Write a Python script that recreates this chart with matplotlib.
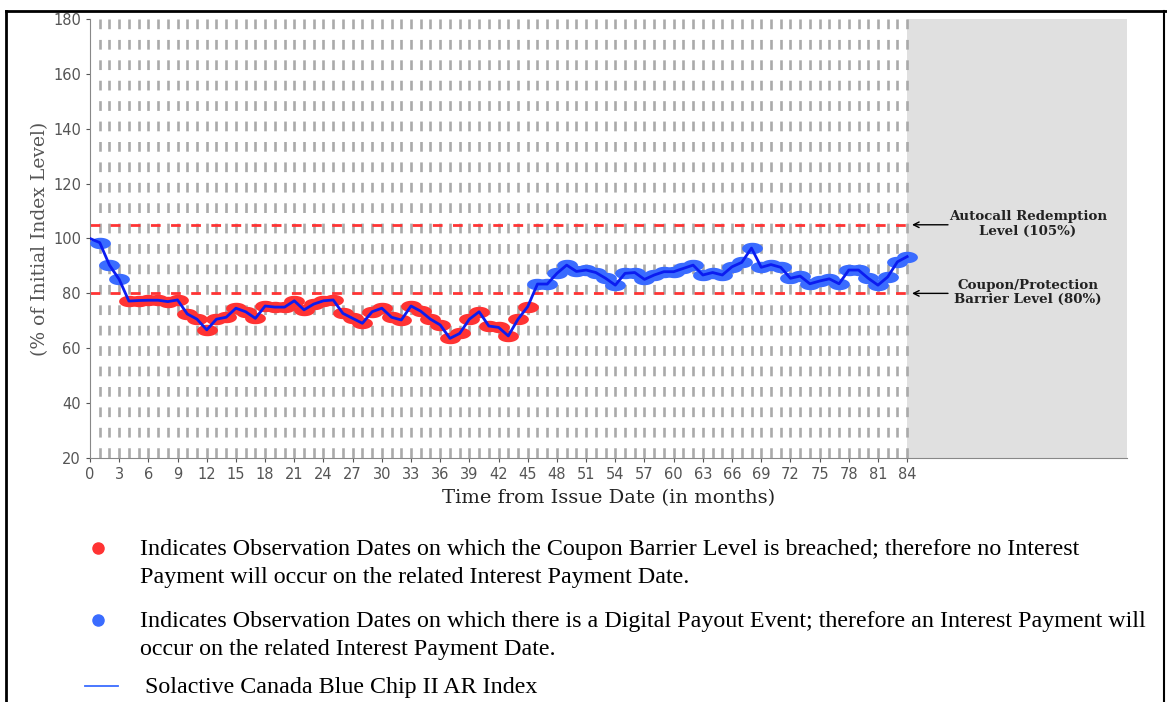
import numpy as np
import matplotlib
matplotlib.use("Agg")
import matplotlib.pyplot as plt
from matplotlib.path import Path
from matplotlib.lines import Line2D

# index level, % of initial, one value per month 0..84
months = list(range(0, 85))
levels = [
    100.0, 98.5, 90.3, 85.1, 77.2, 77.4, 77.5, 77.5, 77.0, 77.6,
    72.5, 70.6, 66.7, 70.6, 71.3, 74.6, 73.3, 70.9, 75.4, 75.0,
    75.0, 77.3, 74.0, 76.1, 77.3, 77.6, 72.7, 70.9, 69.1, 73.3,
    74.6, 71.3, 70.3, 75.4, 73.5, 70.6, 68.5, 63.6, 65.4, 70.6,
    73.3, 68.1, 67.6, 64.5, 70.6, 75.2, 83.4, 83.4, 87.3, 90.3,
    88.0, 88.5, 87.6, 85.5, 83.0, 87.3, 87.6, 85.1, 86.7, 87.9,
    87.9, 89.1, 90.3, 86.7, 87.6, 86.7, 89.7, 91.3, 96.5, 89.5,
    90.5, 89.5, 85.5, 86.3, 83.5, 84.5, 85.3, 83.5, 88.5, 88.5,
    85.5, 83.0, 86.0, 91.5, 93.4,
]
autocall_level = 105
barrier_level = 80
maturity = 84
xticks = list(range(0, 85, 3))
yticks = list(range(20, 181, 20))

W, H = 1167, 702
RED, BLUE, LINE = "#ff3333", "#3a6cff", "#0b1cf0"

plt.rcParams["lines.scale_dashes"] = False
fig = plt.figure(figsize=(W / 100, H / 100), dpi=100)
ax = fig.add_axes([90 / W, 1 - 458 / H, (1127 - 90) / W, (458 - 19) / H])
ax.set_xlim(0, 106.6)
ax.set_ylim(20, 180)

# grey area after maturity
ax.axvspan(maturity, 106.6, color="#e0e0e0", lw=0, zorder=0)

# monthly observation dates
ax.vlines(months[1:], 180, 20, colors="#aaaaaa", lw=1.9,
          linestyles=[(0, (7.0, 7.7))], zorder=1)

# barrier lines
ax.hlines([autocall_level, barrier_level], 0, maturity, colors=RED, lw=2.0,
          linestyles=[(0, (7.0, 7.5))], zorder=2)

# ellipse marker
t = np.linspace(0, 2 * np.pi, 40)
ell = Path(np.column_stack([np.cos(t), 0.55 * np.sin(t)]), closed=True)

lv = np.array(levels)
mo = np.array(months)
obs = mo >= 1
below = obs & (lv < barrier_level)
above = obs & (lv >= barrier_level)
ax.plot(mo[below], lv[below], ls="none", marker=ell, ms=15, mfc=RED, mec="none", zorder=3)
ax.plot(mo[above], lv[above], ls="none", marker=ell, ms=15, mfc=BLUE, mec="none", zorder=3)
ax.plot(mo, lv, color=LINE, lw=2.0, zorder=4)

# labels on the right
for lvl, txt in [(autocall_level, "Autocall Redemption\nLevel (105%)"),
                 (barrier_level, "Coupon/Protection\nBarrier Level (80%)")]:
    ax.annotate("", xy=(84.5, lvl), xytext=(88.2, lvl),
                arrowprops=dict(arrowstyle="->", color="black", lw=1.0,
                                shrinkA=0, shrinkB=0), zorder=5)
    ax.text(96.4, lvl + 0.3, txt, ha="center", va="center", family="DejaVu Serif",
            fontweight="bold", fontsize=9.6, color="#222222", linespacing=1.15)

ax.set_xticks(xticks)
ax.set_yticks(yticks)
ax.tick_params(colors="#555555", labelsize=10.5, length=3, width=0.8)
for lab in ax.get_xticklabels() + ax.get_yticklabels():
    lab.set_color("#555555")
for s in ["top", "right"]:
    ax.spines[s].set_visible(False)
for s in ["left", "bottom"]:
    ax.spines[s].set_color("#888888")

ax.set_xlabel("Time from Issue Date (in months)", family="DejaVu Serif",
              fontsize=14, color="#222222", labelpad=5)
ax.set_ylabel("(% of Initial Index Level)", family="DejaVu Serif",
              fontsize=13.5, color="#555555", labelpad=3)

# legend text below the chart
def px(x, y):
    return x / W, 1 - y / H

serif = "Liberation Serif"
fs = 17.25
fig.text(*px(140, 549), "Indicates Observation Dates on which the Coupon Barrier Level is breached; therefore no Interest",
         family=serif, fontsize=fs, va="center")
fig.text(*px(140, 578), "Payment will occur on the related Interest Payment Date.",
         family=serif, fontsize=fs, va="center")
fig.text(*px(140, 621), "Indicates Observation Dates on which there is a Digital Payout Event; therefore an Interest Payment will",
         family=serif, fontsize=fs, va="center")
fig.text(*px(140, 650), "occur on the related Interest Payment Date.",
         family=serif, fontsize=fs, va="center")
fig.text(*px(145, 687), "Solactive Canada Blue Chip II AR Index",
         family=serif, fontsize=fs, va="center")

fig.add_artist(Line2D([98 / W], [1 - 548 / H], marker="o", ms=8, color=RED, ls="none"))
fig.add_artist(Line2D([98 / W], [1 - 620 / H], marker="o", ms=8, color=BLUE, ls="none"))
fig.add_artist(Line2D([85 / W, 118 / W], [1 - 686 / H] * 2, color=BLUE, lw=1.3))

# page frame
fig.add_artist(Line2D([6 / W, 6 / W], [0, 1 - 11 / H], color="black", lw=2))
fig.add_artist(Line2D([6 / W, 1], [1 - 11 / H] * 2, color="black", lw=2))
fig.add_artist(Line2D([1164 / W, 1164 / W], [0, 1 - 11 / H], color="black", lw=1.5))

fig.savefig("out.png", dpi=100)
